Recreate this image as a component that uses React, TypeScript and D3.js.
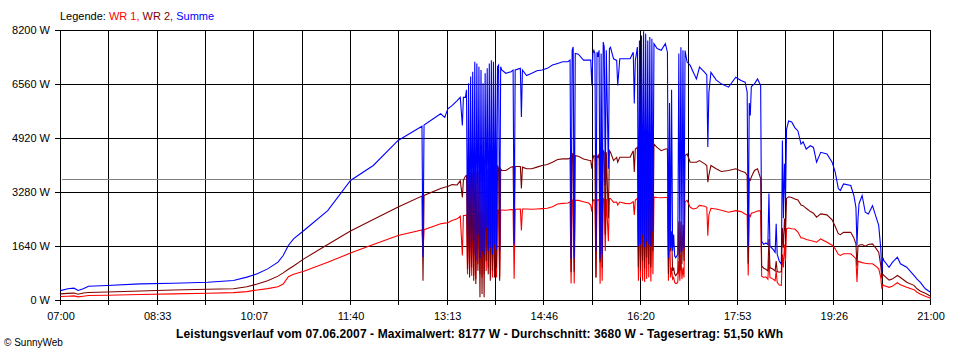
import React from "react";
import * as d3 from "d3";

// minutes after 07:00
const minutes = [
  0, 7, 13, 17, 22, 27, 45, 77, 109, 142, 167, 180, 190, 200, 210, 215, 220, 225, 235, 258,
  280, 302, 326, 349, 350, 351, 367, 371, 374, 378, 383, 386, 388, 389, 391,
  392, 393, 394, 395, 396, 397, 398, 399, 400, 401, 402, 403, 404, 405, 406, 407, 408, 409,
  410, 411, 412, 413, 414, 415, 416, 417, 418, 419, 420, 421, 422, 423, 424, 425, 426,
  430, 435, 437, 438, 439, 444, 445, 446, 450, 455, 460, 465, 470, 475, 480, 485, 490,
  492, 493, 494, 495, 496, 497, 500, 505, 510, 512, 513, 514,
  515, 516, 517, 518, 519, 520, 521, 522, 523, 524, 525, 526, 527, 529, 530, 531,
  534, 537, 538, 540, 545, 550, 553, 554, 555,
  557, 558, 559, 560, 561, 562, 563, 564, 565, 566, 567, 568, 569, 570, 571, 572, 573,
  576, 580, 584, 586,
  587, 588, 589, 590, 591, 592, 593, 594, 595, 596, 597, 598, 599, 600, 601, 602, 603,
  605, 608, 611, 614, 617, 622, 624, 625, 626, 628, 633, 638, 645, 652, 657, 661, 663, 664,
  665, 666, 667, 670, 673, 676,
  677, 679, 681, 683, 684, 685, 688, 690, 691, 692, 694, 696, 697, 698, 699, 700,
  701, 703, 706, 709, 712, 715, 717, 720, 724, 727, 730, 734, 740, 745, 748, 751, 753, 756,
  763, 766, 768, 769, 770, 771, 774, 777, 780, 784, 787, 790, 792, 793, 794, 795,
  800, 803, 808, 811, 817, 824, 827, 830, 835, 840,
];

// WR 1 (red)
const wr1 = [
  120, 130, 140, 110, 130, 150, 160, 180, 200, 220, 240, 270, 320, 360, 420, 500, 720, 800, 890, 1160,
  1440, 1700, 1975, 2140, 1500, 2150, 2330, 2350, 2360, 2430, 2480, 2560, 1370, 2580, 2580,
  2600, 800, 2620, 900, 2650, 750, 2650, 750, 2700, 650, 2700, 1100, 2650, 800, 2700, 700, 2650, 800,
  2700, 900, 2700, 1000, 2750, 800, 2750, 700, 2750, 850, 2750, 700, 2750, 2750, 700, 2750, 2750,
  2740, 2760, 2760, 660, 2770, 2780, 2130, 2780, 2780, 2770, 2780, 2790, 2800, 2850, 2930, 2950, 2960,
  3000, 520, 3050, 3050, 520, 3040, 3040, 3000, 2960, 2890, 2700, 3000,
  3060, 3050, 700, 3060, 3050, 3070, 510, 3060, 600, 3100, 3080, 1500, 3080, 1800, 3100, 3100,
  2980, 2990, 2900, 2990, 2950, 2940, 3000, 2600, 3050,
  3100, 600, 3150, 700, 3150, 600, 3140, 560, 3120, 650, 3100, 700, 3130, 580, 3120, 800, 3140,
  3130, 3120, 3130, 3130,
  600, 2500, 700, 1000, 650, 700, 550, 520, 520, 560, 1200, 600, 1400, 650, 1000, 700, 3000,
  3040, 2830, 2780, 2800, 2890, 2860, 2830, 1970, 2600, 2800, 2780, 2740, 2680, 2730, 2700, 2630, 2600, 760,
  2600, 2550, 2650, 2680, 2720, 2730,
  740, 700, 720, 650, 1300, 700, 650, 600, 900, 550, 470, 460, 1400, 1000, 1700, 1200,
  2180, 2200, 2180, 2170, 2080, 1900, 1900, 1850, 1820, 1800, 1770, 1870, 1770, 1680, 1570, 1400, 1370, 1420,
  1420, 1330, 1270, 560, 1200, 1180, 1150, 1130, 1115, 1115, 1050, 960, 700, 355, 480, 456,
  400, 430, 540, 480, 404, 330, 252, 200, 130, 70,
];

// WR 2 (dark red)
const wr2 = [
  200, 215, 225, 190, 230, 245, 260, 290, 320, 340, 355, 420, 500, 600, 740, 840, 950, 1050, 1265, 1700,
  2110, 2460, 2840, 3170, 600, 3190, 3400, 3440, 3460, 3520, 3510, 3640, 3130, 3650, 3780,
  3800, 950, 3850, 700, 3900, 1000, 3900, 600, 3950, 500, 3900, 900, 3950, 100, 3950, 200, 3900, 100,
  3950, 1200, 4000, 800, 4000, 600, 4150, 900, 4200, 700, 4150, 1000, 4100, 4000, 600, 4000, 3950,
  3950, 4050, 4070, 1800, 4070, 4070, 3400, 4050, 4000, 4000, 4050, 4100, 4130, 4200, 4280, 4300, 4300,
  4330, 860, 4450, 4460, 870, 4400, 4380, 4300, 4260, 4250, 4000, 4300,
  4400, 4380, 700, 4400, 4350, 4450, 1160, 4400, 1000, 4550, 4500, 2000, 4500, 2500, 4550, 4500,
  4250, 4350, 4200, 4350, 4350, 4350, 4550, 3900, 4600,
  4650, 1000, 4750, 900, 4800, 1200, 4820, 980, 4800, 1300, 4750, 1100, 4800, 1000, 4750, 1500, 4750,
  4650, 4550, 4600, 4600,
  800, 3600, 1500, 2100, 900, 1000, 800, 750, 800, 850, 2400, 900, 2400, 1100, 2300, 1200, 4400,
  4450, 4200, 4200, 4200, 4250, 4150, 4100, 3590, 3800, 4100, 4000, 3920, 3950, 4000, 3930, 3890, 3800, 1120,
  3700, 3650, 3750, 3950, 4000, 3700,
  1050, 980, 950, 900, 1870, 1000, 950, 900, 1200, 880, 860, 880, 2200, 1600, 2490, 2000,
  3100, 3150, 3130, 3080, 3050, 2900, 2880, 2800, 2700, 2650, 2530, 2630, 2600, 2450, 2250, 2030, 2000, 2070,
  2070, 1900, 1720, 1060, 1650, 1680, 1700, 1650, 1700, 1720, 1600, 1470, 1060, 670, 800, 760,
  620, 650, 760, 700, 556, 460, 355, 290, 220, 130,
];

// Summe (blue)
const summe = [
  300, 355, 375, 305, 355, 435, 455, 505, 525, 555, 605, 710, 810, 960, 1165, 1365, 1670, 1870, 2125, 2730,
  3645, 4100, 4860, 5290, 1315, 5330, 5670, 5560, 5820, 5920, 6070, 6170, 5315, 6170, 6170,
  6400, 1600, 6600, 1500, 6800, 1800, 6950, 1400, 7250, 1200, 7200, 2000, 7100, 1300, 7000, 1500, 6600, 1400,
  6900, 2200, 7050, 1500, 7200, 1600, 7300, 1400, 7250, 1700, 7200, 1550, 7100, 7150, 1500, 7100, 7000,
  6900, 6950, 7000, 1700, 7000, 7050, 5570, 7000, 6830, 6900, 6980, 7000, 7050, 7150, 7200, 7250, 7250,
  7300, 1270, 7600, 7700, 1280, 7500, 7480, 7300, 7300, 7300, 6530, 7500,
  7600, 7500, 1500, 7550, 7400, 7600, 1270, 7500, 1400, 7850, 7700, 3500, 7600, 4000, 7650, 7690,
  7340, 7290, 6530, 7340, 7340, 7340, 7540, 5980, 7290,
  7700, 1650, 7900, 1700, 8050, 2000, 8177, 1620, 8100, 1800, 7900, 1700, 8000, 1650, 7950, 2100, 7800,
  7650, 7600, 7800, 7540,
  1300, 6000, 1600, 6400, 1500, 2000, 1350, 1300, 1350, 1400, 7500, 1450, 7690, 1500, 7600, 1600, 7590,
  7240, 7140, 6930, 6730, 7090, 6930, 6850, 4660, 6300, 6930, 6700, 6580, 6480, 6780, 6680, 6630, 6330, 1640,
  6000, 5620, 6500, 6580, 6730, 6530,
  1800, 1700, 1750, 1700, 3250, 1650, 1550, 1460, 2330, 1400, 1200, 1100, 4860, 2500, 4150, 3000,
  5200, 5450, 5420, 5250, 5150, 4750, 4820, 4600, 4700, 4650, 4200, 4500, 4450, 4200, 3900, 3400, 3340, 3540,
  3490, 3190, 2830, 1670, 2500, 2940, 3190, 2680, 2630, 2880, 2580, 2280, 1570, 860, 1300, 1215,
  1010, 1150, 1315, 1115, 1010, 760, 650, 556, 355, 250,
];

const xTickLabels = ["07:00", "08:33", "10:07", "11:40", "13:13", "14:46", "16:20", "17:53", "19:26", "21:00"];
const yTickValues = [0, 1640, 3280, 4920, 6560, 8200];
const averageWatt = 3680;
const legendItems = [
  { label: "WR 1,", color: "#ff0000" },
  { label: "WR 2,", color: "#800000" },
  { label: "Summe", color: "#0000ff" },
];
const titleText =
  "Leistungsverlauf vom 07.06.2007 - Maximalwert: 8177 W - Durchschnitt: 3680 W - Tagesertrag: 51,50 kWh";
const copyright = "\u00a9 SunnyWeb";

const FONT = "'Liberation Sans', Arial, sans-serif";

export default function App() {
  const W = 960;
  const H = 360;
  const totalMin = 840;
  const x = d3.scaleLinear().domain([0, totalMin]).range([60, 930]);
  const y = d3.scaleLinear().domain([0, 8200]).range([300, 30]);
  const px = (v: number) => Math.round(v) + 0.5;

  const gridMin = d3.range(0, 19).map((i) => (i * totalMin) / 18);
  const labelMin = d3.range(0, 10).map((i) => (i * totalMin) / 9);

  const idx = d3.range(minutes.length);
  const lineFor = (vals: number[]) =>
    d3
      .line<number>()
      .x((i) => x(minutes[i]) + 0.5)
      .y((i) => y(vals[i]) + 0.5)(idx) || "";

  const series = [
    { vals: wr1, color: "#ff0000" },
    { vals: wr2, color: "#800000" },
    { vals: summe, color: "#0000ff" },
  ];

  return (
    <svg
      width={W}
      height={H}
      style={{ position: "absolute", left: 0, top: 0, background: "#fff" }}
      fontFamily={FONT}
    >
      <rect x={0} y={0} width={W} height={H} fill="#fff" />
      {/* legend */}
      <text x={60} y={20} fontSize={11} fill="#000">
        <tspan>Legende: </tspan>
        {legendItems.map((d, i) => (
          <tspan key={i} fill={d.color}>
            {d.label + (i < legendItems.length - 1 ? " " : "")}
          </tspan>
        ))}
      </text>

      {/* horizontal grid + y ticks */}
      <g shapeRendering="crispEdges" stroke="#000" strokeWidth={1}>
        {yTickValues.map((v) => (
          <line key={"h" + v} x1={55} x2={px(x(totalMin))} y1={px(y(v))} y2={px(y(v))} />
        ))}
        {gridMin.map((m, i) => (
          <line key={"v" + i} x1={px(x(m))} x2={px(x(m))} y1={px(y(8200))} y2={305} />
        ))}
      </g>
      <line
        x1={px(x(0)) + 1}
        x2={px(x(totalMin))}
        y1={px(y(averageWatt))}
        y2={px(y(averageWatt))}
        stroke="#808080"
        strokeWidth={1}
        shapeRendering="crispEdges"
      />

      {/* y labels */}
      {yTickValues.map((v) => (
        <text key={"yl" + v} x={50} y={y(v)} dy="0.35em" fontSize={11} textAnchor="end" fill="#000">
          {v + " W"}
        </text>
      ))}
      {/* x labels */}
      {labelMin.map((m, i) => (
        <text key={"xl" + i} x={x(m) + 1} y={320} fontSize={11} textAnchor="middle" fill="#000">
          {xTickLabels[i]}
        </text>
      ))}

      {/* series */}
      {series.map((s, i) => (
        <path key={i} d={lineFor(s.vals)} fill="none" stroke={s.color} strokeWidth={1.1} />
      ))}

      <text
        x={176}
        y={338}
        fontSize={12}
        fontWeight="bold"
        fill="#000"
        textLength={607}
        lengthAdjust="spacing"
      >
        {titleText}
      </text>
      <text x={4} y={346} fontSize={10} fill="#000">
        {copyright}
      </text>
    </svg>
  );
}
